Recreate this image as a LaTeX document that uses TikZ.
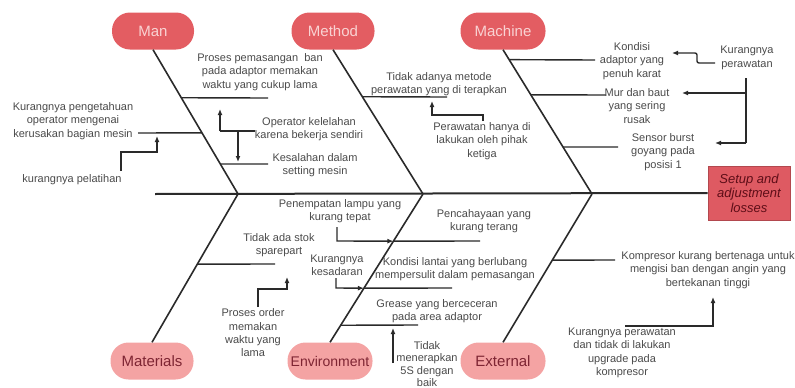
\documentclass[tikz,border=0pt]{standalone}
\usepackage{fontspec}
\setmainfont{Liberation Sans}
\usetikzlibrary{arrows.meta,calc}
\definecolor{pilltop}{HTML}{E35D62}
\definecolor{pilltoptext}{HTML}{F9D3D3}
\definecolor{pillbot}{HTML}{F4A3A3}
\definecolor{pillbottext}{HTML}{7E2533}
\definecolor{headfill}{HTML}{DE5A62}
\definecolor{headtext}{HTML}{5E0E18}
\definecolor{txt}{HTML}{4A4A4A}
\definecolor{ln}{HTML}{2A2A2A}
\begin{document}
\begin{tikzpicture}[x=1pt,y=-1pt,
  pilltopbox/.style={rounded corners=18pt, fill=pilltop, minimum width=82pt, minimum height=37pt, text=pilltoptext, font=\fontsize{15}{18}\selectfont, inner sep=0pt},
  pillbotbox/.style={rounded corners=18pt, fill=pillbot, minimum width=83pt, minimum height=37pt, text=pillbottext, font=\fontsize{15}{18}\selectfont, inner sep=0pt},
  headbox/.style={fill=headfill, draw=headfill!80!black, line width=0.6pt, minimum width=82pt, minimum height=54pt, text=headtext, align=center, font=\fontsize{13}{14.5}\selectfont\itshape, inner sep=0pt},
  lbl/.style={align=center, text=txt, font=\fontsize{11}{13.3}\selectfont, inner sep=0pt},
  spine/.style={draw=ln, line width=2pt},
  bone/.style={draw=ln, line width=1.6pt},
  branch/.style={draw=ln, line width=1.4pt},
  conn/.style={draw=ln, line width=1.4pt},
  arr/.style={conn, -{Latex[length=6pt,width=5pt]}}
]
\useasboundingbox (0,0) rectangle (795,388);

% head and spine
\node[headbox] (head) at (749,193) {Setup and\\adjustment\\losses};
\coordinate (tail) at (155,194);
\draw[spine] (tail) -- (head.west);

% category pills
\node[pilltopbox] (man) at (153,31) {Man};
\node[pilltopbox, minimum width=83pt] (method) at (333,31) {Method};
\node[pilltopbox, minimum width=85pt] (machine) at (503,31) {Machine};
\node[pillbotbox] (materials) at (152,361) {Materials};
\node[pillbotbox, minimum width=85pt, font=\fontsize{14}{17}\selectfont] (environment) at (330,361) {Environment};
\node[pillbotbox, minimum width=85pt] (external) at (503,361) {External};

% joints on spine
\coordinate (j1) at (238,194);
\coordinate (j2) at (423,194);
\coordinate (j3) at (592,194);

% bones
\draw[bone] (man.south) -- (j1);
\draw[bone] (method.south) -- (j2);
\draw[bone] (machine.south) -- (j3);
\draw[bone] (materials.north) -- (j1);
\draw[bone] (environment.north) -- (j2);
\draw[bone] (external.north) -- (j3);

% ---------- Man ----------
\coordinate (m1a) at ($(man.south)!0.333!(j1)$);
\coordinate (m1b) at (268,98);
\draw[branch] (m1a) -- (m1b);
\coordinate (m2a) at ($(man.south)!0.576!(j1)$);
\coordinate (m2b) at (138,133);
\draw[branch] (m2a) -- (m2b);
\coordinate (m3a) at ($(man.south)!0.792!(j1)$);
\coordinate (m3b) at (268,164);
\draw[branch] (m3a) -- (m3b);

\node[lbl] (t1) at (260,72) {Proses pemasangan\ \ ban\\pada adaptor memakan\\waktu yang cukup lama};
\node[lbl] (t2) at (73,121) {Kurangnya pengetahuan\\operator mengenai\\kerusakan bagian mesin};
\node[lbl] (t3) at (309,129) {Operator kelelahan\\karena bekerja sendiri};
\node[lbl] (t4) at (315,165) {Kesalahan dalam\\setting mesin};
\node[lbl] (t5) at (72,180) {kurangnya pelatihan};

\coordinate (c3a) at (220,131);
\coordinate (c3b) at (238,131);
\draw[conn] (t3.west |- c3a) -- (c3a);
\draw[arr] (c3a) -- (220,109);
\draw[arr] (c3b) -- (238,162);
\draw[arr] (121,171) -- (121,152) -- (157,152) -- (157,136);

% ---------- Method ----------
\coordinate (me1a) at ($(method.south)!0.326!(j2)$);
\coordinate (me1b) at (447,97);
\draw[branch] (me1a) -- (me1b);
\node[lbl] (t6) at (439,84) {Tidak adanya metode\\perawatan yang di terapkan};
\node[lbl] (t7) at (482,141) {Perawatan hanya di\\lakukan oleh pihak\\ketiga};
\draw[arr] (483,121) -- (483,115) -- (432,115) -- (432,101);

% ---------- Machine ----------
\coordinate (ma1a) at ($(machine.south)!0.069!(j3)$);
\coordinate (ma1b) at (595,60);
\draw[branch] (ma1a) -- (ma1b);
\coordinate (ma2a) at ($(machine.south)!0.3125!(j3)$);
\coordinate (ma2b) at (606,95);
\draw[branch] (ma2a) -- (ma2b);
\coordinate (ma3a) at ($(machine.south)!0.674!(j3)$);
\coordinate (ma3b) at (618,147);
\draw[branch] (ma3a) -- (ma3b);

\node[lbl] (t8) at (632,61) {Kondisi\\adaptor yang\\penuh karat};
\node[lbl] (t9) at (637,106) {Mur dan baut\\yang sering\\rusak};
\node[lbl] (t10) at (663,152) {Sensor burst\\goyang pada\\posisi 1};
\node[lbl] (t11) at (747,58) {Kurangnya\\perawatan};

\draw[arr, rounded corners=2pt] (715,63) -- (697,63) -- (697,53) -- (672,53);
\coordinate (v1) at (746,78);
\coordinate (v2) at (746,93);
\coordinate (v3) at (746,143);
\draw[conn] (v1) -- (v3);
\draw[arr] (v2) -- (682,93);
\draw[arr] (v3) -- (715,143);

% ---------- Materials ----------
\coordinate (mt1a) at ($(materials.north)!0.527!(j1)$);
\coordinate (mt1b) at (275,264);
\draw[branch] (mt1a) -- (mt1b);
\node[lbl] (t12) at (279,245) {Tidak ada stok\\sparepart};
\node[lbl] (t13) at (253,333) {Proses order\\memakan\\waktu yang\\lama};
\draw[arr] (258,307) -- (258,289) -- (287,289) -- (287,277);

% ---------- Environment ----------
\coordinate (e1a) at ($(environment.north)!0.682!(j2)$);
\coordinate (e1b) at (480,241);
\draw[branch] (e1a) -- (e1b);
\coordinate (e2a) at ($(environment.north)!0.365!(j2)$);
\coordinate (e2b) at (452,288);
\draw[branch] (e2a) -- (e2b);
\coordinate (e3a) at ($(environment.north)!0.115!(j2)$);
\coordinate (e3b) at (418,325);
\draw[branch] (e3a) -- (e3b);

\node[lbl] (t14) at (340,211) {Penempatan lampu yang\\kurang tepat};
\node[lbl] (t15) at (484,221) {Pencahayaan yang\\kurang terang};
\node[lbl] (t16) at (337,265) {Kurangnya\\kesadaran};
\node[lbl] (t17) at (455,269) {Kondisi lantai yang berlubang\\mempersulit dalam pemasangan};
\node[lbl] (t18) at (437,311) {Grease yang berceceran\\pada area adaptor};
\node[lbl, font=\fontsize{11}{12.6}\selectfont] (t19) at (427,364) {Tidak\\menerapkan\\5S dengan\\baik};

\draw[arr] (337,227) -- (337,241) -- (e1a);
\draw[arr] (336,278) -- (336,288) -- (e2a);
\draw[arr] (393,363) -- (393,328);

% ---------- External ----------
\coordinate (x1a) at ($(external.north)!0.554!(j3)$);
\coordinate (x1b) at (615,260);
\draw[branch] (x1a) -- (x1b);
\node[lbl] (t20) at (708,270) {Kompresor kurang bertenaga untuk\\mengisi ban dengan angin yang\\bertekanan tinggi};
\node[lbl] (t21) at (622,353) {Kurangnya perawatan\\dan tidak di lakukan\\upgrade pada\\kompresor};
\draw[arr] (625,326) -- (713,326) -- (713,297);
\end{tikzpicture}
\end{document}
